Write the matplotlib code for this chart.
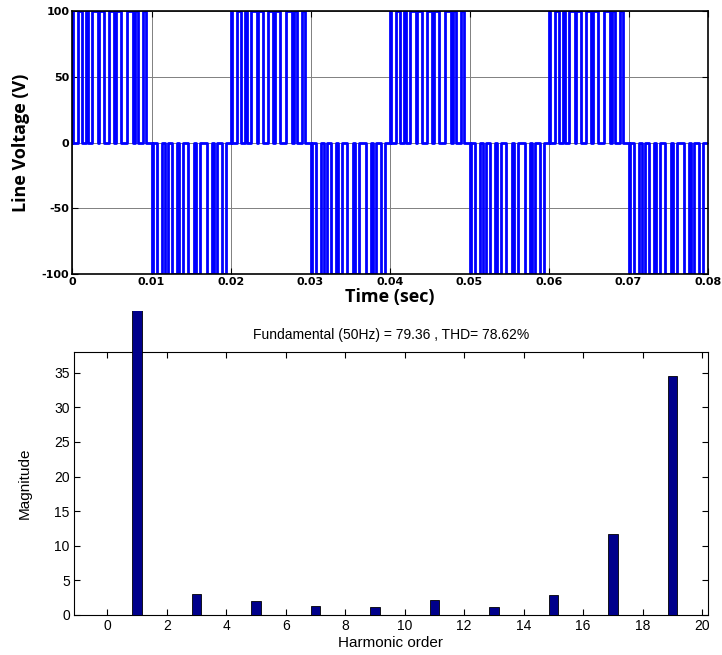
import numpy as np
import matplotlib
matplotlib.use('Agg')
import matplotlib.pyplot as plt
from matplotlib.transforms import Bbox, TransformedBbox

plt.rcParams['axes.unicode_minus'] = False

# ---------------- data ----------------
# switching instants inside one half cycle (s, relative to half-cycle start)
pos_edges = [0.0000, 0.00017, 0.00072, 0.00127, 0.00173, 0.00203, 0.00257,
             0.00321, 0.00342, 0.00397, 0.00464, 0.00532, 0.00557, 0.00616,
             0.00692, 0.00764, 0.00789, 0.00827, 0.00890, 0.00937]
neg_edges = [0.0000, 0.00017, 0.00072, 0.00127, 0.00173, 0.00203, 0.00257,
             0.00321, 0.00342, 0.00397, 0.00464, 0.00532, 0.00557, 0.00616,
             0.00692, 0.00764, 0.00789, 0.00827, 0.00890, 0.00937]
half_period = 0.01
n_half_cycles = 8
v_dc = 100

harm_order = list(range(0, 20))
harm_mag = [0.0, 79.36, 0.0, 3.0, 0.0, 2.0, 0.0, 1.3, 0.0, 1.15,
            0.0, 2.1, 0.0, 1.1, 0.0, 2.9, 0.0, 11.7, 0.0, 34.6]
title_text = "Fundamental (50Hz) = 79.36 , THD= 78.62%"

top_xticks = [0, 0.01, 0.02, 0.03, 0.04, 0.05, 0.06, 0.07, 0.08]
top_xticklabels = ['0', '0.01', '0.02', '0.03', '0.04', '0.05', '0.06', '0.07', '0.08']
top_yticks = [-100, -50, 0, 50, 100]
bot_xticks = list(range(0, 21, 2))
bot_yticks = [0, 5, 10, 15, 20, 25, 30, 35]

# ---------------- waveform from switching instants ----------------
times = [0.0]
values = [0.0]
for k in range(n_half_cycles):
    sign = 1 if k % 2 == 0 else -1
    edges = pos_edges if sign > 0 else neg_edges
    level = 0.0
    for e in edges:
        level = sign * v_dc if level == 0.0 else 0.0
        times.append(k * half_period + e)
        values.append(level)
times.append(n_half_cycles * half_period)
values.append(0.0)

# ---------------- figure ----------------
W, H = 722, 655
fig = plt.figure(figsize=(W / 100, H / 100), dpi=100)

bold_font = ['Open Sans', 'DejaVu Sans']
plain_font = ['Liberation Sans', 'DejaVu Sans']

ax1 = fig.add_axes([72 / W, 1 - 274 / H, (708 - 72) / W, (274 - 11) / H])
ax1.step(times, values, where='post', color='#0000FF', lw=2.0, zorder=2)
ax1.set_xlim(0, 0.08)
ax1.set_ylim(-100, 100)
ax1.set_xticks(top_xticks)
ax1.set_xticklabels(top_xticklabels)
ax1.set_yticks(top_yticks)
ax1.grid(True, color='#808080', lw=0.7)
ax1.set_axisbelow(True)
ax1.tick_params(direction='in', top=True, right=True, length=4, width=0.8,
                labelsize=8, pad=2)
for lab in ax1.get_xticklabels() + ax1.get_yticklabels():
    lab.set_fontweight('bold')
    lab.set_family(['DejaVu Sans'])
for s in ax1.spines.values():
    s.set_linewidth(1.2)
ax1.set_xlabel('Time (sec)', fontsize=13, fontweight='bold', family=bold_font,
               labelpad=1)
ax1.set_ylabel('Line Voltage (V)', fontsize=13, fontweight='bold', family=bold_font,
               labelpad=8)

# ---------------- harmonic spectrum ----------------
ax2 = fig.add_axes([74 / W, 1 - 615 / H, (708 - 74) / W, (615 - 352) / H])
bars = ax2.bar(harm_order, harm_mag, width=0.32, color='#00008B',
               edgecolor='black', linewidth=0.6, zorder=3)
ax2.set_xlim(-1.12, 20.2)
ax2.set_ylim(0, 38)
ax2.set_xticks(bot_xticks)
ax2.set_yticks(bot_yticks)
ax2.tick_params(direction='in', top=True, right=True, length=4, width=0.8,
                labelsize=10, pad=3)
for lab in ax2.get_xticklabels() + ax2.get_yticklabels():
    lab.set_family(plain_font)
ax2.set_xlabel('Harmonic order', fontsize=11, family=plain_font, labelpad=2)
ax2.set_ylabel('Magnitude', fontsize=11, family=plain_font, labelpad=16)
ax2.set_title(title_text, fontsize=10, family=plain_font, pad=9)

# fundamental bar overflows the axes top (clipped just below the upper plot)
clip = TransformedBbox(Bbox.from_extents(0, 0, 1, 1 - 311 / H), fig.transFigure)
bars[1].set_clip_box(clip)

fig.savefig('out.png', dpi=100)
